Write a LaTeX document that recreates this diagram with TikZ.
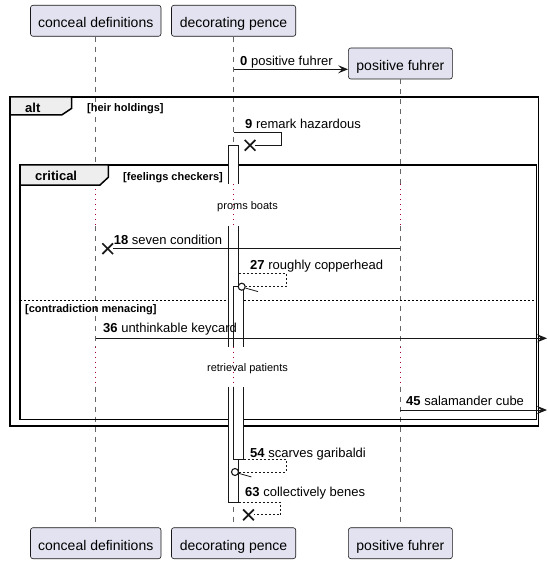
\documentclass[tikz,border=0pt]{standalone}
\usepackage{fontspec}
\setmainfont{Liberation Sans}
\usetikzlibrary{arrows.meta,shapes.misc}
\definecolor{partfill}{HTML}{E2E2F0}
\definecolor{partline}{HTML}{181818}
\definecolor{delayred}{HTML}{A80036}
\definecolor{tabfill}{HTML}{EEEEEE}
\begin{document}
\begin{tikzpicture}[x=1pt,y=-1pt,
  part/.style={draw=partline, fill=partfill, rounded corners=2.5pt, line width=0.6pt,
    inner sep=0pt, text height=14pt, text depth=0pt, minimum height=31pt,
    font=\fontsize{14}{16}\selectfont},
  life/.style={draw=black!60, line width=0.7pt, dash pattern=on 5pt off 5pt},
  delayline/.style={draw=delayred, line width=0.9pt, dash pattern=on 1pt off 4pt},
  barbox/.style={draw=partline, fill=white, line width=0.8pt},
  msg/.style={draw=partline, line width=0.9pt},
  tip/.style={-{Stealth[length=10pt,width=8pt,inset=4pt]}},
  retmsg/.style={draw=partline, line width=0.8pt, dash pattern=on 2pt off 2pt},
  msglbl/.style={anchor=base west, inner sep=0pt, font=\fontsize{13}{15}\selectfont},
  delaylbl/.style={anchor=base, inner sep=0pt, font=\fontsize{11}{13}\selectfont},
  framelbl/.style={anchor=base west, inner sep=0pt, font=\fontsize{13}{15}\selectfont\bfseries},
  guardlbl/.style={anchor=base west, inner sep=0pt, font=\fontsize{11}{13}\selectfont\bfseries},
  frame/.style={draw=black, line width=1.5pt},
  xmark/.style={cross out, draw=partline, line width=1.7pt, minimum size=9pt, inner sep=0pt},
  omark/.style={circle, draw=partline, line width=1.1pt, minimum size=7pt, inner sep=0pt, fill=white}
]
\useasboundingbox (0,0) rectangle (547,564);

% participants
\node[part, minimum width=130.5pt] (cdT) at (95.75,20.8) {conceal definitions};
\node[part, minimum width=124.3pt] (dpT) at (233.6,20.8) {decorating pence};
\node[part, minimum width=104pt] (pfT) at (400.4,63.5) {positive fuhrer};
\node[part, minimum width=130.5pt] (cdB) at (95.75,543.2) {conceal definitions};
\node[part, minimum width=124.3pt] (dpB) at (233.6,543.2) {decorating pence};
\node[part, minimum width=104pt] (pfB) at (400.4,543.2) {positive fuhrer};

% delay boundaries
\coordinate (d1a) at (0,184);
\coordinate (d1b) at (0,226);
\coordinate (d2a) at (0,346.7);
\coordinate (d2b) at (0,386.7);

% lifelines
\foreach \t/\b in {cdT/cdB, dpT/dpB, pfT/pfB}{
  \draw[life] (\t.south) -- (\t.south |- d1a);
  \draw[delayline] (\t.south |- d1a) -- (\t.south |- d1b);
  \draw[life] (\t.south |- d1b) -- (\t.south |- d2a);
  \draw[delayline] (\t.south |- d2a) -- (\t.south |- d2b);
  \draw[life] (\t.south |- d2b) -- (\b.north);
}

% frames
\draw[frame] (10,97) rectangle (538.5,426);
\draw[frame, fill=tabfill] (10,97) -- (71.7,97) -- (71.7,108.3) -- (61.7,115) -- (10,115) -- cycle;
\node[framelbl] (altlbl) at (25,112.7) {alt};
\node[guardlbl] (altguard) at (87,111.5) {[heir holdings]};

\draw[frame] (20,165) rectangle (536.5,419.5);
\draw[frame, fill=tabfill] (20,165) -- (108.3,165) -- (108.3,177.3) -- (100,185) -- (20,185) -- cycle;
\node[framelbl] (critlbl) at (35,180.7) {critical};
\node[guardlbl] (critguard) at (123,180.5) {[feelings checkers]};

\draw[draw=black, line width=0.9pt, dash pattern=on 2pt off 2pt] (20,300) -- (536.5,300);
\node[guardlbl] (elseguard) at (25,312.3) {[contradiction menacing]};

% activation bars (outer)
\fill[white] (228.5,145.3) rectangle (238.5,184);
\draw[barbox] (228.5,184) -- (228.5,145.3) -- (238.5,145.3) -- (238.5,184);
\fill[white] (228.5,226) rectangle (238.5,346.7);
\draw[barbox] (228.5,226) -- (228.5,346.7) (238.5,226) -- (238.5,346.7);
\fill[white] (228.5,386.7) rectangle (238.5,502.5);
\draw[barbox] (228.5,386.7) -- (228.5,502.5) -- (238.5,502.5) -- (238.5,386.7);
% nested bars
\fill[white] (233.5,286.7) rectangle (243.5,346.7);
\draw[barbox] (233.5,346.7) -- (233.5,286.7) -- (243.5,286.7) -- (243.5,346.7);
\fill[white] (233.5,386.7) rectangle (243.5,459.5);
\draw[barbox] (233.5,386.7) -- (233.5,459.5) -- (243.5,459.5) -- (243.5,386.7);

% delay texts
\node[delaylbl] (delay1) at (247.5,209.3) {proms boats};
\node[delaylbl] (delay2) at (247.5,371) {retrieval patients};

% message 0
\coordinate (m0s) at (233.6,69.3);
\draw[msg, tip] (m0s) -- (m0s -| pfT.west);
\node[msglbl] (l0) at (240,65.5) {\textbf{0} positive fuhrer};

% message 9
\node[xmark] (x9) at (250,145.3) {};
\coordinate (m9s) at (233.6,132.3);
\draw[msg] (m9s) -- ++(47.5,0) |- (x9.east);
\node[msglbl] (l9) at (245,128.3) {\textbf{9} remark hazardous};

% message 18
\node[xmark] (x18) at (107.7,248.7) {};
\draw[msg] (x18.center -| pfT.south) -- (x18.east);
\node[msglbl] (l18) at (113.6,244) {\textbf{18} seven condition};

% message 27
\node[omark] (o27) at (241.7,286.7) {};
\coordinate (m27s) at (238.5,273.3);
\draw[retmsg] (m27s) -- (286,273.3) |- (o27.east);
\draw[partline, line width=0.8pt] (o27.-20) -- ++(12.5,3.5);
\node[msglbl] (l27) at (250,269) {\textbf{27} roughly copperhead};

% message 36
\coordinate (m36e) at (547,338.3);
\draw[msg, tip] (m36e -| cdT.south) -- (m36e);
\node[msglbl] (l36) at (103,332.7) {\textbf{36} unthinkable keycard};

% message 45
\coordinate (m45e) at (547,410);
\draw[msg, tip] (m45e -| pfT.south) -- (m45e);
\node[msglbl] (l45) at (406,405.3) {\textbf{45} salamander cube};

% message 54
\node[omark] (o54) at (235,472) {};
\coordinate (m54s) at (243.5,459.5);
\draw[retmsg] (m54s) -- (286,459.5) |- (o54.east);
\draw[partline, line width=0.8pt] (o54.-20) -- ++(12.5,3.5);
\node[msglbl] (l54) at (250,457) {\textbf{54} scarves garibaldi};

% message 63
\node[xmark] (x63) at (248.5,514.8) {};
\coordinate (m63s) at (238.5,502.5);
\draw[retmsg] (m63s) -- (280.5,502.5) |- (x63.east);
\node[msglbl] (l63) at (245,496.7) {\textbf{63} collectively benes};
\end{tikzpicture}
\end{document}
